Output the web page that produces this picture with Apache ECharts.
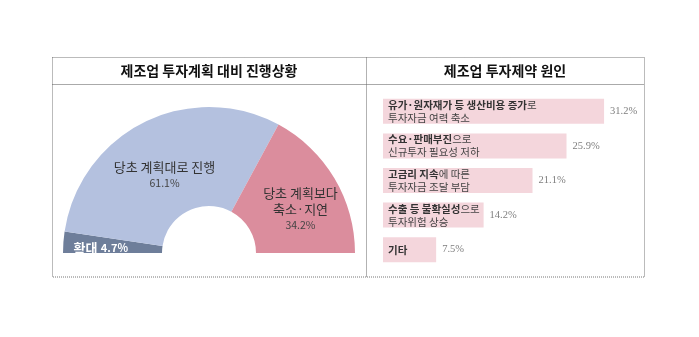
<!DOCTYPE html>
<html><head><meta charset="utf-8">
<script src="https://cdn.jsdelivr.net/npm/echarts@6/dist/echarts.min.js"></script>
<style>html,body{margin:0;padding:0;background:#fff}#c{width:699px;height:337px}</style>
</head><body><div id="c"></div>
<script>
const leftTitle = '제조업 투자계획 대비 진행상황';
const rightTitle = '제조업 투자제약 원인';
const pieNames = ['확대', '당초 계획대로 진행', '당초 계획보다\n축소·지연'];
const pieValues = [4.7, 61.1, 34.2];
const barBold = ['유가·원자재가 등 생산비용 증가', '수요·판매부진', '고금리 지속', '수출 등 불확실성', '기타'];
const barRest = ['로', '으로', '에 따른', '으로', ''];
const barLine2 = ['투자자금 여력 축소', '신규투자 필요성 저하', '투자자금 조달 부담', '투자위험 상승', ''];
const barValues = [31.2, 25.9, 21.1, 14.2, 7.5];

const KR = '"Noto Sans CJK KR", "Noto Sans", sans-serif';
const chart = echarts.init(document.getElementById('c'));
const pieColors = ['#6e7e9a', '#b4c1df', '#db8d9d'];

const pieData = pieNames.map((n, i) => {
  const d = { name: n, value: pieValues[i], itemStyle: { color: pieColors[i] } };
  if (i === 0) {
    d.label = { formatter: '{a|{b}} {p|{c}%}', offset: [-9, 2],
      rich: { a: { color: '#fff', fontSize: 13, fontWeight: 'bold', fontFamily: KR },
              p: { color: '#fff', fontSize: 11, fontWeight: 'bold', fontFamily: KR } } };
  } else if (i === 1) {
    d.label = { formatter: '{a|{b}}\n{p|{c}%}', offset: [0, 11] };
  } else {
    d.label = { formatter: '{a|{b}}\n{p|{c}%}', offset: [6, 7] };
  }
  return d;
});

const catNames = barBold.map((b, i) => b + barRest[i] + (barLine2[i] ? '\n' + barLine2[i] : ''));

chart.setOption({
  animation: false,
  graphic: [
    { type: 'rect', shape: { x: 52.5, y: 57.5, width: 592, height: 219.5 }, style: { fill: null, stroke: '#777', lineWidth: 1, lineDash: [1, 1] } },
    { type: 'line', shape: { x1: 52.5, y1: 84.5, x2: 644.5, y2: 84.5 }, style: { stroke: '#555', lineWidth: 1, lineDash: [1, 1] } },
    { type: 'line', shape: { x1: 366.5, y1: 57.5, x2: 366.5, y2: 277 }, style: { stroke: '#666', lineWidth: 1, lineDash: [1, 1] } },
    { type: 'text', x: 209, y: 71, style: { text: leftTitle, font: 'bold 14px ' + KR, fill: '#111', textAlign: 'center', textVerticalAlign: 'middle' } },
    { type: 'text', x: 505, y: 71, style: { text: rightTitle, font: 'bold 14px ' + KR, fill: '#111', textAlign: 'center', textVerticalAlign: 'middle' } }
  ],
  grid: { left: 383, top: 94, width: 248, height: 173 },
  xAxis: { type: 'value', min: 0, max: 35, show: false },
  yAxis: {
    type: 'category', data: catNames, inverse: true,
    axisLine: { show: false }, axisTick: { show: false },
    axisLabel: {
      inside: true, margin: 5, align: 'left',
      formatter: (v, i) => {
        let s = '{b|' + barBold[i] + '}' + (barRest[i] ? '{n|' + barRest[i] + '}' : '');
        if (barLine2[i]) s += '\n{n|' + barLine2[i] + '}';
        return s;
      },
      rich: {
        b: { fontSize: 10.5, fontWeight: 'bold', color: '#333', fontFamily: KR, lineHeight: 13 },
        n: { fontSize: 10.5, color: '#444', fontFamily: KR, lineHeight: 13 }
      }
    },
    z: 10
  },
  series: [
    {
      type: 'bar', data: barValues, barWidth: 25,
      itemStyle: { color: '#f4d6dc' },
      label: { show: true, position: 'right', distance: 6, formatter: '{c}%', color: '#7f7f7f', fontSize: 10.5, fontFamily: '"Liberation Serif", serif' },
      z: 1
    },
    {
      type: 'pie', center: [209, 253], radius: [47, 146], startAngle: 180, endAngle: 0,
      clockwise: true, data: pieData,
      label: { show: true, position: 'inside', color: '#333', lineHeight: 16,
        rich: { a: { fontSize: 13, color: '#333', fontFamily: KR, lineHeight: 16, align: 'center' },
                p: { fontSize: 10.5, color: '#444', fontFamily: KR, lineHeight: 16, align: 'center' } } },
      labelLine: { show: false },
      itemStyle: { borderWidth: 0 },
      emphasis: { disabled: true }
    }
  ]
});
</script></body></html>
